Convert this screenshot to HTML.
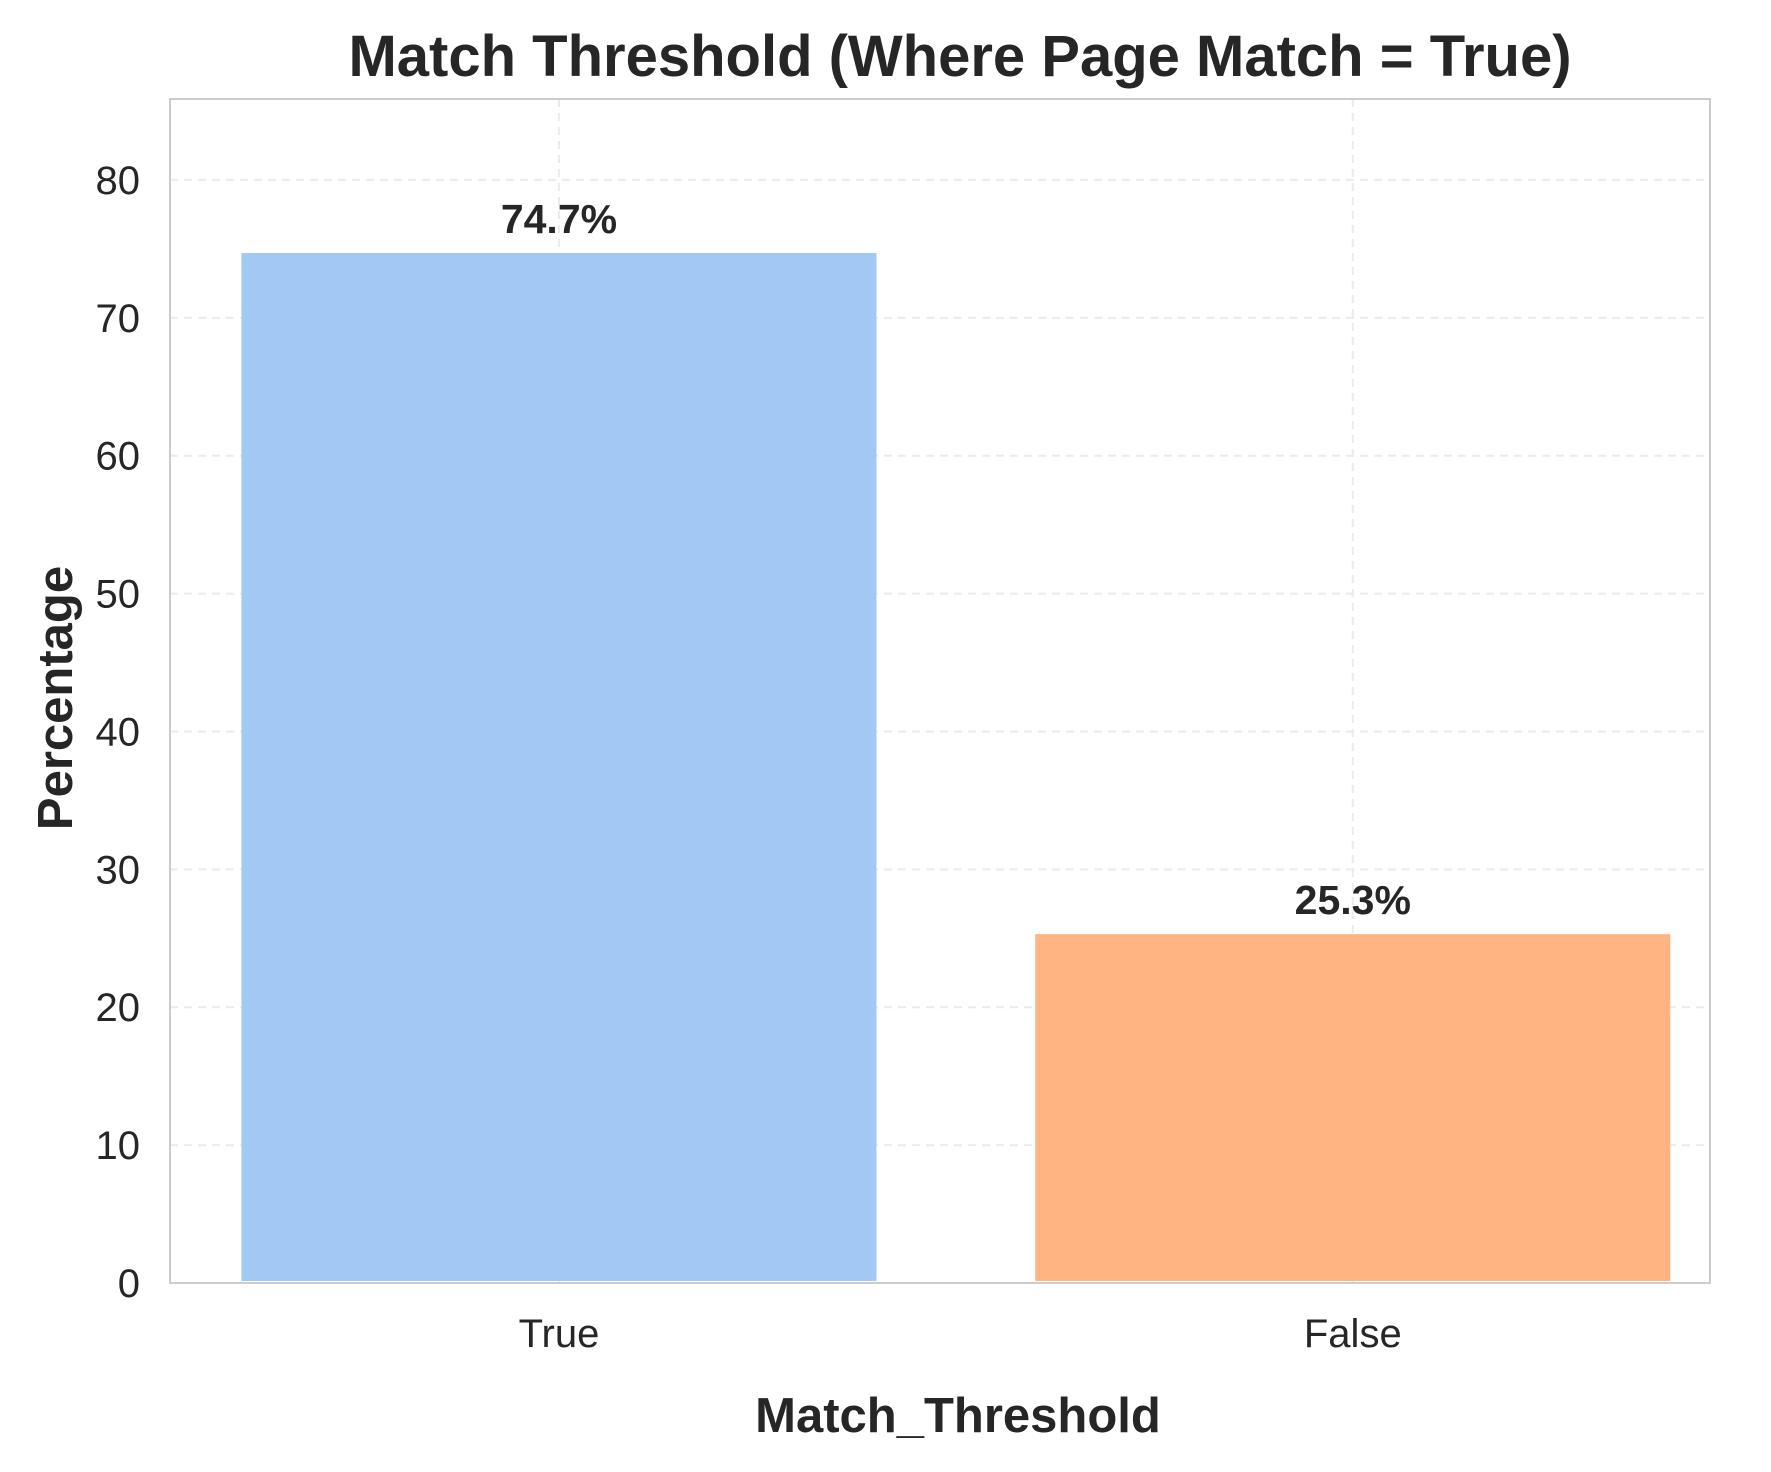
<!DOCTYPE html>
<html><head><meta charset="utf-8"><style>
body{margin:0;background:#fff}
svg text{font-family:"Liberation Sans",Arial,sans-serif;fill:#262626}
</style></head><body>
<svg id="chart" width="1771" height="1467">
<text x="960" y="76" text-anchor="middle" font-size="58" font-weight="bold">Match Threshold (Where Page Match = True)</text>
<g id="grid"></g><g id="bars"></g><g id="labels"></g>
<rect x="170" y="99" width="1540" height="1184" fill="none" stroke="#cccccc" stroke-width="2"/>
<text transform="translate(72,698) rotate(-90)" text-anchor="middle" font-size="49" font-weight="bold">Percentage</text>
<text x="958" y="1432" text-anchor="middle" font-size="49" font-weight="bold">Match_Threshold</text>
</svg>
<script>
const categories=["True","False"];
const values=[74.7,25.3];
const valueLabels=["74.7%","25.3%"];
const yTicks=[0,10,20,30,40,50,60,70,80];
const colors=["#a1c9f4","#ffb482"];
const L=170,R=1710,T=99,B=1283,YMAX=85.87,XMIN=-0.49,XMAX=1.45,BARW=0.8;
const ns="http://www.w3.org/2000/svg";
function y(v){return B-(v/YMAX)*(B-T);}
function x(u){return L+(u-XMIN)/(XMAX-XMIN)*(R-L);}
function xc(i){return x(i);}
const bw=x(BARW)-x(0);
function mk(t,a,p){const e=document.createElementNS(ns,t);for(const k in a)e.setAttribute(k,a[k]);p.appendChild(e);return e;}
const g=document.getElementById('grid'),bg=document.getElementById('bars'),lg=document.getElementById('labels');
yTicks.forEach(v=>{
 if(v>0){const l=mk('line',{x1:L,x2:R,y1:y(v),y2:y(v),stroke:'#ebebeb','stroke-width':2,'stroke-dasharray':'8,6'},g);
 
 }
 const t=mk('text',{x:140,y:y(v)+14,'text-anchor':'end','font-size':40},g);t.textContent=v;
 
 
});
categories.forEach((c,i)=>{
 const gl=mk('line',{x1:xc(i),x2:xc(i),y1:T,y2:B,stroke:'#ebebeb','stroke-width':2,'stroke-dasharray':'8,6'},g);
 
 
 const r=mk('rect',{x:xc(i)-bw/2,y:y(values[i]),width:bw,height:B-2-y(values[i]),fill:colors[i]},bg);
 
 
 const t=mk('text',{x:xc(i),y:y(values[i])-20,'text-anchor':'middle','font-size':41,'font-weight':'bold'},lg);t.textContent=valueLabels[i];
 
 
 const xt=mk('text',{x:xc(i),y:1347,'text-anchor':'middle','font-size':40},lg);xt.textContent=c;
 
 
});
</script>
</body></html>
